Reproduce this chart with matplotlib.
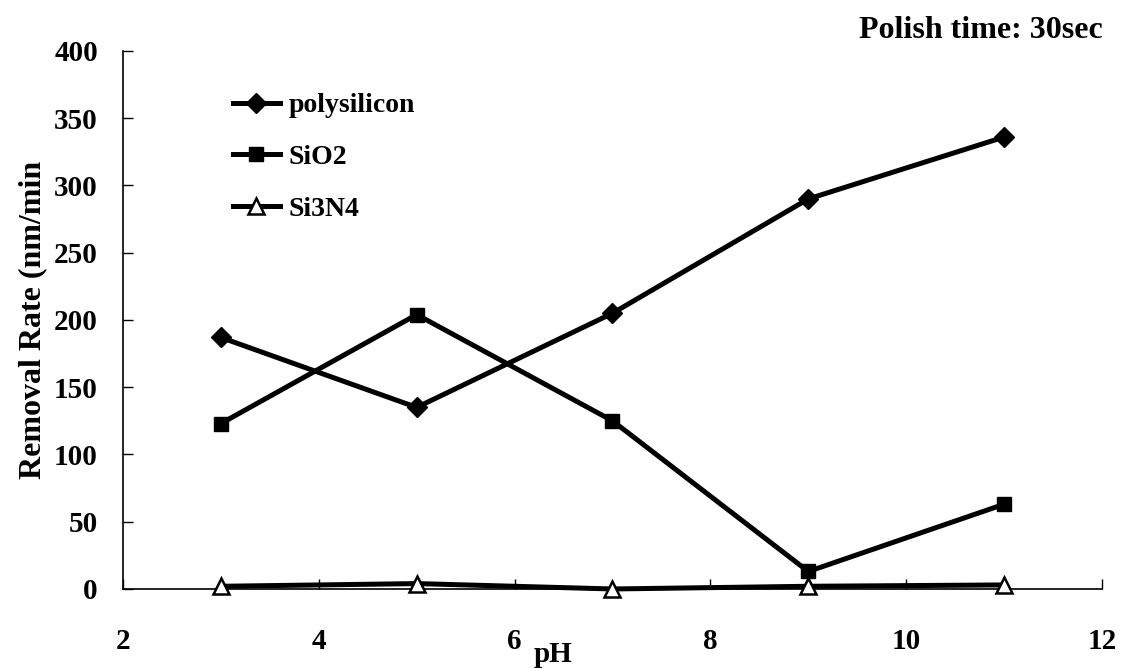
import matplotlib
matplotlib.use("Agg")
import matplotlib.pyplot as plt

ph = [3, 5, 7, 9, 11]
polysilicon = [187, 135, 205, 290, 336]
sio2 = [123, 204, 125, 13, 63]
si3n4 = [2, 4, 0, 2, 3]
series_labels = ["polysilicon", "SiO2", "Si3N4"]
x_ticks = [2, 4, 6, 8, 10, 12]
y_ticks = [0, 50, 100, 150, 200, 250, 300, 350, 400]

plt.rcParams['font.family'] = ['Liberation Serif', 'DejaVu Serif']
plt.rcParams['font.weight'] = 'bold'

fig = plt.figure(figsize=(11.22, 6.68), dpi=100)
ax = fig.add_axes([0.1096, 0.1183, 0.8726, 0.8054])

lw = 3.6
ax.plot(ph, polysilicon, color='black', lw=lw, marker='D', markersize=10,
        markerfacecolor='black', markeredgecolor='black', label=series_labels[0], clip_on=False, zorder=3)
ax.plot(ph, sio2, color='black', lw=lw, marker='s', markersize=10,
        markerfacecolor='black', markeredgecolor='black', label=series_labels[1], clip_on=False, zorder=3)
ax.plot(ph, si3n4, color='black', lw=lw, marker='^', markersize=12,
        markerfacecolor='white', markeredgecolor='black', markeredgewidth=1.8,
        label=series_labels[2], clip_on=False, zorder=4)

ax.set_xlim(2, 12)
ax.set_ylim(0, 400)
ax.set_xticks(x_ticks)
ax.set_yticks(y_ticks)
ax.spines['top'].set_visible(False)
ax.spines['right'].set_visible(False)
for s in ['left', 'bottom']:
    ax.spines[s].set_linewidth(1.2)
ax.tick_params(axis='both', direction='in', length=7, width=1.0, labelsize=21)
ax.tick_params(axis='x', pad=28)
ax.tick_params(axis='y', pad=18)

ax.set_ylabel("Removal Rate (nm/min", fontsize=23, fontweight='bold')
ax.yaxis.set_label_coords(-0.077, 0.5)
ax.set_xlabel("pH", fontsize=21, fontweight='bold')
ax.xaxis.set_label_coords(0.439, -0.096)

leg = ax.legend(loc='upper left', bbox_to_anchor=(0.112, 0.922), frameon=False,
                fontsize=20, handlelength=1.7, handletextpad=0.3,
                labelspacing=0.95, borderpad=0, borderaxespad=0)

fig.text(0.983, 1 - 30 / 668, "Polish time: 30sec", ha='right', va='center',
         fontsize=23, fontweight='bold')

fig.savefig("out.png", dpi=100)
